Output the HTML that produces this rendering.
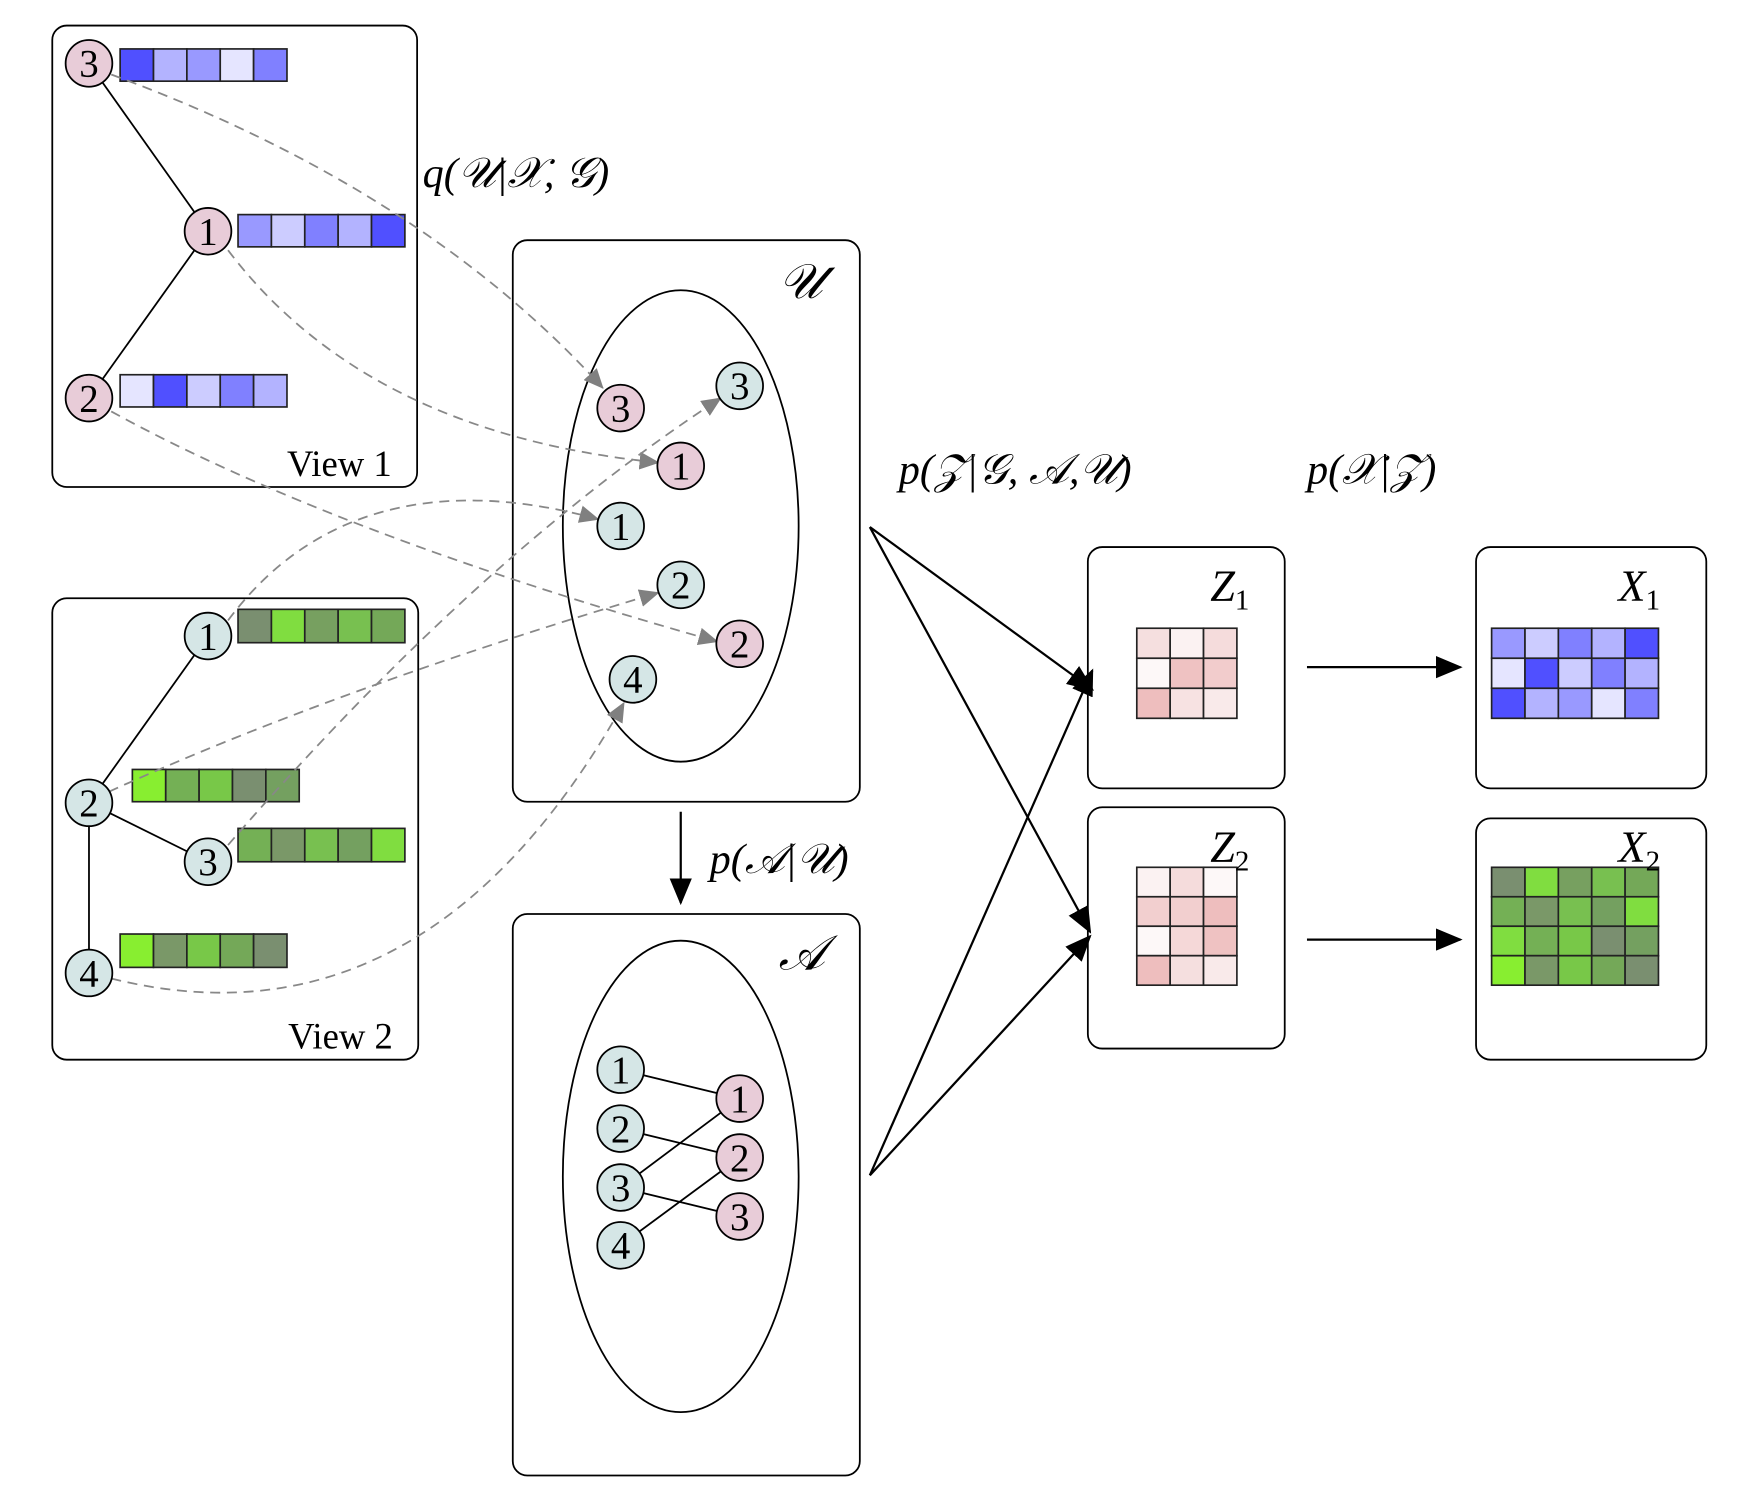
<!DOCTYPE html>
<html><head><meta charset="utf-8"><style>html,body{margin:0;padding:0;background:#fff}svg{display:block}</style></head><body>
<svg width="1743" height="1500" viewBox="0 0 1567 1349" preserveAspectRatio="none" xmlns="http://www.w3.org/2000/svg" font-family="'Liberation Serif', serif">
<defs>
<marker id="ga" markerWidth="18" markerHeight="16" refX="17" refY="8" orient="auto" markerUnits="userSpaceOnUse" viewBox="0 0 18 16"><path d="M0,0 L18,8 L0,16 z" fill="#808080"/></marker>
<marker id="ba" markerWidth="24" markerHeight="20" refX="22" refY="10" orient="auto" markerUnits="userSpaceOnUse" viewBox="0 0 24 20"><path d="M0,0 L24,10 L0,20 z" fill="#000"/></marker>
</defs>
<g fill="none" stroke="#000" stroke-width="1.6">
<rect x="47" y="23" width="328" height="415" rx="13"/>
<rect x="47" y="538" width="329" height="415" rx="13"/>
<rect x="461" y="216" width="312" height="505" rx="13"/>
<rect x="461" y="822" width="312" height="505" rx="13"/>
<rect x="978" y="492" width="177" height="217" rx="13"/>
<rect x="978" y="726" width="177" height="217" rx="13"/>
<rect x="1327" y="492" width="207" height="217" rx="13"/>
<rect x="1327" y="736" width="207" height="217" rx="13"/>
<ellipse cx="612" cy="473" rx="106" ry="212"/>
<ellipse cx="612" cy="1058" rx="106" ry="212"/>
<line x1="80" y1="57" x2="187" y2="208"/><line x1="187" y1="208" x2="80" y2="358"/>
<line x1="187" y1="572" x2="80" y2="722"/><line x1="80" y1="722" x2="187" y2="775"/><line x1="80" y1="722" x2="80" y2="875"/>
<line x1="558" y1="962" x2="665" y2="988"/><line x1="558" y1="1015" x2="665" y2="1041"/><line x1="558" y1="1068" x2="665" y2="988"/><line x1="558" y1="1068" x2="665" y2="1094"/><line x1="558" y1="1120" x2="665" y2="1041"/>
</g>
<g stroke="#222" stroke-width="1.5">
<rect x="108" y="44" width="30" height="29" fill="#5050ff"/><rect x="138" y="44" width="30" height="29" fill="#b3b3ff"/><rect x="168" y="44" width="30" height="29" fill="#9999ff"/><rect x="198" y="44" width="30" height="29" fill="#e5e5ff"/><rect x="228" y="44" width="30" height="29" fill="#8080ff"/>
<rect x="214" y="193" width="30" height="29" fill="#9999ff"/><rect x="244" y="193" width="30" height="29" fill="#ccccff"/><rect x="274" y="193" width="30" height="29" fill="#8080ff"/><rect x="304" y="193" width="30" height="29" fill="#b3b3ff"/><rect x="334" y="193" width="30" height="29" fill="#5050ff"/>
<rect x="108" y="337" width="30" height="29" fill="#e5e5ff"/><rect x="138" y="337" width="30" height="29" fill="#5050ff"/><rect x="168" y="337" width="30" height="29" fill="#ccccff"/><rect x="198" y="337" width="30" height="29" fill="#8080ff"/><rect x="228" y="337" width="30" height="29" fill="#b3b3ff"/>
<rect x="214" y="548" width="30" height="30" fill="#7a8f70"/><rect x="244" y="548" width="30" height="30" fill="#80dd40"/><rect x="274" y="548" width="30" height="30" fill="#77a060"/><rect x="304" y="548" width="30" height="30" fill="#78c050"/><rect x="334" y="548" width="30" height="30" fill="#74a858"/>
<rect x="119" y="692" width="30" height="29" fill="#88ee30"/><rect x="149" y="692" width="30" height="29" fill="#74b055"/><rect x="179" y="692" width="30" height="29" fill="#78c848"/><rect x="209" y="692" width="30" height="29" fill="#7a8f70"/><rect x="239" y="692" width="30" height="29" fill="#74a060"/>
<rect x="214" y="745" width="30" height="30" fill="#74b055"/><rect x="244" y="745" width="30" height="30" fill="#7a9868"/><rect x="274" y="745" width="30" height="30" fill="#78c050"/><rect x="304" y="745" width="30" height="30" fill="#74a060"/><rect x="334" y="745" width="30" height="30" fill="#80dd40"/>
<rect x="108" y="840" width="30" height="30" fill="#88ee30"/><rect x="138" y="840" width="30" height="30" fill="#7a9868"/><rect x="168" y="840" width="30" height="30" fill="#78c848"/><rect x="198" y="840" width="30" height="30" fill="#74a858"/><rect x="228" y="840" width="30" height="30" fill="#7a8f70"/>
<rect x="1022" y="565" width="30" height="27" fill="#f5dfdf"/><rect x="1052" y="565" width="30" height="27" fill="#fbf2f2"/><rect x="1082" y="565" width="30" height="27" fill="#f5dcdc"/>
<rect x="1022" y="592" width="30" height="27" fill="#fdf8f8"/><rect x="1052" y="592" width="30" height="27" fill="#efc2c2"/><rect x="1082" y="592" width="30" height="27" fill="#f2cccc"/>
<rect x="1022" y="619" width="30" height="27" fill="#eebebe"/><rect x="1052" y="619" width="30" height="27" fill="#f7e2e2"/><rect x="1082" y="619" width="30" height="27" fill="#f9eaea"/>
<rect x="1022" y="780" width="30" height="26.5" fill="#fbf2f2"/><rect x="1052" y="780" width="30" height="26.5" fill="#f5dcdc"/><rect x="1082" y="780" width="30" height="26.5" fill="#fdf8f8"/>
<rect x="1022" y="806.5" width="30" height="26.5" fill="#f2cfcf"/><rect x="1052" y="806.5" width="30" height="26.5" fill="#f2cfcf"/><rect x="1082" y="806.5" width="30" height="26.5" fill="#eebebe"/>
<rect x="1022" y="833" width="30" height="26.5" fill="#fdf8f8"/><rect x="1052" y="833" width="30" height="26.5" fill="#f5d8d8"/><rect x="1082" y="833" width="30" height="26.5" fill="#efc2c2"/>
<rect x="1022" y="859.5" width="30" height="26.5" fill="#eebebe"/><rect x="1052" y="859.5" width="30" height="26.5" fill="#f5dfdf"/><rect x="1082" y="859.5" width="30" height="26.5" fill="#f9eaea"/>
<rect x="1341" y="565" width="30" height="27" fill="#9999ff"/><rect x="1371" y="565" width="30" height="27" fill="#ccccff"/><rect x="1401" y="565" width="30" height="27" fill="#8080ff"/><rect x="1431" y="565" width="30" height="27" fill="#b3b3ff"/><rect x="1461" y="565" width="30" height="27" fill="#5050ff"/>
<rect x="1341" y="592" width="30" height="27" fill="#e5e5ff"/><rect x="1371" y="592" width="30" height="27" fill="#5050ff"/><rect x="1401" y="592" width="30" height="27" fill="#ccccff"/><rect x="1431" y="592" width="30" height="27" fill="#8080ff"/><rect x="1461" y="592" width="30" height="27" fill="#b3b3ff"/>
<rect x="1341" y="619" width="30" height="27" fill="#5050ff"/><rect x="1371" y="619" width="30" height="27" fill="#b3b3ff"/><rect x="1401" y="619" width="30" height="27" fill="#9999ff"/><rect x="1431" y="619" width="30" height="27" fill="#e5e5ff"/><rect x="1461" y="619" width="30" height="27" fill="#8080ff"/>
<rect x="1341" y="780" width="30" height="26.5" fill="#7a8f70"/><rect x="1371" y="780" width="30" height="26.5" fill="#80dd40"/><rect x="1401" y="780" width="30" height="26.5" fill="#77a060"/><rect x="1431" y="780" width="30" height="26.5" fill="#78c050"/><rect x="1461" y="780" width="30" height="26.5" fill="#74a858"/>
<rect x="1341" y="806.5" width="30" height="26.5" fill="#74b055"/><rect x="1371" y="806.5" width="30" height="26.5" fill="#7a9868"/><rect x="1401" y="806.5" width="30" height="26.5" fill="#78c050"/><rect x="1431" y="806.5" width="30" height="26.5" fill="#74a060"/><rect x="1461" y="806.5" width="30" height="26.5" fill="#80dd40"/>
<rect x="1341" y="833" width="30" height="26.5" fill="#80dd40"/><rect x="1371" y="833" width="30" height="26.5" fill="#74b055"/><rect x="1401" y="833" width="30" height="26.5" fill="#78c848"/><rect x="1431" y="833" width="30" height="26.5" fill="#7a8f70"/><rect x="1461" y="833" width="30" height="26.5" fill="#74a060"/>
<rect x="1341" y="859.5" width="30" height="26.5" fill="#88ee30"/><rect x="1371" y="859.5" width="30" height="26.5" fill="#7a9868"/><rect x="1401" y="859.5" width="30" height="26.5" fill="#78c848"/><rect x="1431" y="859.5" width="30" height="26.5" fill="#74a858"/><rect x="1461" y="859.5" width="30" height="26.5" fill="#7a8f70"/>
</g>
<g fill="none" stroke="#888" stroke-width="1.6" stroke-dasharray="9,6" marker-end="url(#ga)">
<path d="M100,67 Q380,170 542,349"/>
<path d="M205,225 Q330,390 592,416"/>
<path d="M100,370 Q300,480 645,577"/>
<path d="M205,558 C300,430 440,440 538,467"/>
<path d="M98,712 Q300,620 592,533"/>
<path d="M205,760 Q430,500 648,358"/>
<path d="M100,880 C300,930 450,830 561,632"/>
</g>
<g stroke="#000" stroke-width="1.6">
<g fill="#e8ccd8"><circle cx="80" cy="57" r="21"/><circle cx="187" cy="208" r="21"/><circle cx="80" cy="358" r="21"/>
<circle cx="558" cy="367" r="21"/><circle cx="612" cy="419" r="21"/><circle cx="665" cy="579" r="21"/>
<circle cx="665" cy="988" r="21"/><circle cx="665" cy="1041" r="21"/><circle cx="665" cy="1094" r="21"/></g>
<g fill="#d5e6e6"><circle cx="187" cy="572" r="21"/><circle cx="80" cy="722" r="21"/><circle cx="187" cy="775" r="21"/><circle cx="80" cy="875" r="21"/>
<circle cx="665" cy="347" r="21"/><circle cx="558" cy="473" r="21"/><circle cx="612" cy="526" r="21"/><circle cx="569" cy="611" r="21"/>
<circle cx="558" cy="962" r="21"/><circle cx="558" cy="1015" r="21"/><circle cx="558" cy="1068" r="21"/><circle cx="558" cy="1120" r="21"/></g>
</g>
<g font-size="35" text-anchor="middle" fill="#000">
<text x="80" y="69">3</text><text x="187" y="220">1</text><text x="80" y="370">2</text>
<text x="187" y="584">1</text><text x="80" y="734">2</text><text x="187" y="787">3</text><text x="80" y="887">4</text>
<text x="558" y="379">3</text><text x="665" y="359">3</text><text x="612" y="431">1</text><text x="558" y="485">1</text><text x="612" y="538">2</text><text x="665" y="591">2</text><text x="569" y="623">4</text>
<text x="558" y="974">1</text><text x="558" y="1027">2</text><text x="558" y="1080">3</text><text x="558" y="1132">4</text>
<text x="665" y="1000">1</text><text x="665" y="1053">2</text><text x="665" y="1106">3</text>
</g>
<g stroke="#000" stroke-width="2" fill="none" marker-end="url(#ba)">
<line x1="612" y1="730" x2="612" y2="812"/>
<line x1="1175" y1="600" x2="1313" y2="600"/>
<line x1="1175" y1="845" x2="1313" y2="845"/>
<line x1="782" y1="474" x2="982" y2="620"/>
<line x1="782" y1="474" x2="980" y2="838"/>
<line x1="782" y1="1057" x2="982" y2="603"/>
<line x1="782" y1="1057" x2="980" y2="842"/>
</g>
<g fill="#000" font-style="italic">
<text x="380" y="168" font-size="38">q(𝒰|𝒳, 𝒢)</text>
<text x="808" y="435" font-size="38">p(𝒵|𝒢, 𝒜,𝒰)</text>
<text x="1175" y="435" font-size="38">p(𝒳|𝒵)</text>
<text x="638" y="785" font-size="38">p(𝒜|𝒰)</text>
<text x="700" y="268" font-size="44">𝒰</text>
<text x="700" y="872" font-size="44">𝒜</text>
<text x="1088" y="540" font-size="40">Z<tspan font-size="26" font-style="normal" dy="8">1</tspan></text>
<text x="1088" y="775" font-size="40">Z<tspan font-size="26" font-style="normal" dy="8">2</tspan></text>
<text x="1455" y="540" font-size="40">X<tspan font-size="26" font-style="normal" dy="8">1</tspan></text>
<text x="1455" y="775" font-size="40">X<tspan font-size="26" font-style="normal" dy="8">2</tspan></text>
</g>
<g fill="#000" font-size="33">
<text x="258" y="428">View 1</text>
<text x="259" y="943">View 2</text>
</g>
</svg>
</body></html>
